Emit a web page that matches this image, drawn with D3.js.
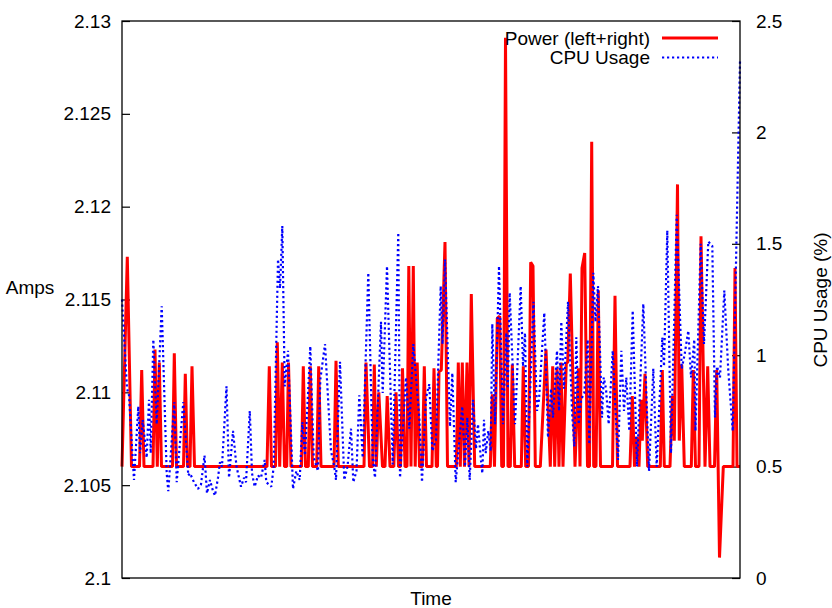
<!DOCTYPE html>
<meta charset="utf-8">

<head>
  <title>Power and CPU usage</title>
</head>

<style>
  body { margin: 0; background: #fff; }
  text { font-family: "Liberation Sans", Arial, sans-serif; font-size: 19px; fill: #000; }
</style>

<body>
  <svg width="832" height="608"></svg>

  <script src="https://cdn.jsdelivr.net/npm/d3@7/dist/d3.min.js"></script>
  <script>
    // sample time (arbitrary units, axis has no labels)
    var powerTime = [0, 5.3, 9.5, 17.5, 19.7, 22, 31, 33, 35.3, 37.3, 39.5, 50.5, 52.3, 54.5, 61.5, 63.3, 65.5, 68, 70, 72.5,
      145, 147.3, 149.5, 153.5, 155.3, 157.7, 160.3, 162.5, 164.7, 166.5, 169, 179.5, 181.3, 183.5, 186.3, 188.3, 190.5,
      194.7, 196.7, 199, 212, 214, 216.3, 242, 244, 247.5, 250.5, 252.3, 254.3, 256.8, 260.5, 263, 265.2, 268, 271.8, 274,
      276.5, 278.5, 280.5, 283, 285, 286.8, 289, 291.3, 293.2, 295.2, 297.5, 300.3, 302.3, 304.5, 310, 312, 314.3, 315.5,
      317, 319.3, 323, 325.5, 334.3, 336.3, 338.3, 340.3, 342.5, 345, 347, 349.3, 352.7, 368.3, 370.3, 372.5, 375.3, 377.7,
      379.7, 381.5, 383.5, 386, 388.3, 390.3, 392.7, 399.3, 401.3, 403.7, 406.5, 408.7, 411, 413.3, 418.3, 424, 428.3,
      430.7, 432.7, 435, 437, 439, 441, 444.3, 445.7, 448.3, 453, 456.5, 458, 460, 462.7, 465.5, 467.5, 469.7, 471.7, 474,
      476.3, 478.5, 490.5, 493, 495.5, 508, 510.3, 512.5, 514.7, 517, 519, 520.3, 523, 525.7, 538.3, 540.3, 542.3, 548,
      550.3, 552.3, 555.5, 557.3, 559.7, 562.3, 569.3, 571.3, 573.5, 577, 579, 583, 585.7, 588, 592.5, 594.7, 597.5, 601.3,
      611, 613, 615, 618];
    var powerAmps = [2.106, 2.1173, 2.106, 2.106, 2.1112, 2.106, 2.106, 2.1123, 2.106, 2.1116, 2.106, 2.106, 2.1121, 2.106, 2.106, 2.111, 2.106, 2.106, 2.1114, 2.106,
      2.106, 2.1114, 2.106, 2.106, 2.1127, 2.106, 2.1116, 2.106, 2.106, 2.1116, 2.106, 2.106, 2.1114, 2.106, 2.106, 2.1114, 2.106,
      2.106, 2.1114, 2.106, 2.106, 2.1117, 2.106, 2.106, 2.1116, 2.106, 2.106, 2.1115, 2.106, 2.11, 2.106, 2.106, 2.1098, 2.106, 2.106, 2.11,
      2.106, 2.106, 2.1113, 2.106, 2.106, 2.1168, 2.106, 2.1168, 2.106, 2.1116, 2.106, 2.106, 2.1114, 2.106, 2.106, 2.1113, 2.106, 2.106,
      2.1111, 2.1112, 2.1181, 2.106, 2.106, 2.1116, 2.106, 2.1116, 2.106, 2.1116, 2.106, 2.1153, 2.106, 2.106, 2.1099, 2.106, 2.114, 2.1141,
      2.106, 2.106, 2.1291, 2.106, 2.106, 2.1115, 2.106, 2.106, 2.1114, 2.106, 2.106, 2.117, 2.1168, 2.106, 2.106, 2.1123, 2.106,
      2.1114, 2.106, 2.1113, 2.106, 2.1116, 2.106, 2.1116, 2.1116, 2.1164, 2.106, 2.1113, 2.106, 2.1167, 2.1175, 2.106, 2.106, 2.1235, 2.106, 2.106,
      2.1155, 2.106, 2.106, 2.1152, 2.106, 2.106, 2.1098, 2.106, 2.1076, 2.106, 2.1096, 2.1074, 2.111, 2.106, 2.106, 2.1112, 2.106, 2.106,
      2.1098, 2.1074, 2.1212, 2.1074, 2.1115, 2.106, 2.106, 2.1112, 2.106, 2.106, 2.1184, 2.106, 2.1114, 2.106, 2.106, 2.1112, 2.1011, 2.106,
      2.106, 2.1167, 2.106, 2.106];

    var cpuTime = [0, 5, 7, 12, 16.3, 18, 20.7, 24.7, 27, 28.7, 31.3, 34.7, 39.7, 44.7, 46.3, 52.3, 54.7, 61.3, 66.3, 68, 72, 76, 79,
      82.5, 85, 88, 91, 93, 96, 98, 100, 104.5, 107, 111, 114.5, 119, 122, 124, 127.8, 130, 132.7, 136, 139, 142.7, 144.3, 149.3,
      151.7, 156, 158, 160.3, 162.7, 166, 171, 174.3, 177.7, 180.3, 183, 188.3, 191.7, 196, 198.3, 203, 209, 212.3, 214, 218, 222.3,
      225.5, 229, 231.3, 234.5, 237.3, 240.7, 246.3, 250.7, 253, 259, 260.7, 265, 270.7, 276.3, 278, 284, 287.3, 291.3, 297.3, 300,
      304, 307.3, 310.3, 314, 318.7, 320.5, 323, 328, 330.3, 333.7, 340.3, 343, 345.3, 347.7, 351, 354, 356, 358.7, 360.3, 362,
      363.7, 366.3, 368.7, 370.3, 373, 377, 381, 384.3, 385.8, 387.7, 393, 395, 398.7, 401, 403, 405.3, 411.5, 415, 417, 422.3,
      426, 429, 431, 435, 437, 439.3, 442, 446, 450, 452.3, 454.3, 456.7, 459, 462.3, 465.7, 467.3, 471.3, 473.5, 476, 480, 481.7,
      484, 486.7, 490.7, 493, 496, 499.3, 502, 504.3, 507.3, 510.7, 515, 521.3, 527, 531.3, 534.7, 540.3, 542, 545.3, 549, 554.7,
      559.7, 562.5, 566.3, 569, 572.3, 573.5, 578.7, 582, 586.3, 590.3, 593, 595, 598, 602.3, 606.3, 610.7, 618];
    var cpuUsage = [1.25, 0.85, 0.82, 0.44, 0.77, 0.56, 0.71, 0.54, 0.8, 0.56, 1.07, 0.69, 1.22, 0.47, 0.39, 0.79, 0.43, 0.79, 0.46, 0.47, 0.43, 0.4, 0.42,
      0.55, 0.38, 0.44, 0.39, 0.37, 0.45, 0.52, 0.5, 0.86, 0.45, 0.66, 0.5, 0.41, 0.45, 0.43, 0.75, 0.47, 0.41, 0.46, 0.45, 0.53, 0.43, 0.41,
      0.5, 1.43, 1.3, 1.58, 0.86, 1.02, 0.4, 0.48, 0.44, 0.7, 0.55, 1.04, 0.54, 0.48, 0.89, 1.05, 0.57, 0.5, 0.44, 0.97, 0.44,
      0.5, 0.67, 0.43, 0.48, 0.82, 0.54, 1.37, 0.54, 0.45, 1.15, 0.83, 1.4, 0.51, 1.55, 0.45, 0.9, 0.67, 1.05, 0.72, 0.43,
      0.81, 0.87, 0.57, 0.62, 1.31, 1.05, 1.43, 0.68, 0.92, 0.43, 0.77, 0.5, 0.72, 0.44, 0.8, 0.58, 0.69, 0.54, 0.47, 0.71,
      0.56, 0.66, 0.57, 1.14, 0.69, 1.4, 0.69, 1.1, 0.85, 1.28, 0.69, 0.9, 1.31, 0.95, 1.1, 0.5, 1.24, 0.75, 0.8, 1.19,
      0.63, 0.85, 0.72, 1.02, 0.75, 1.15, 0.85, 1.24, 0.75, 0.59, 1.08, 0.69, 0.8, 0.83, 1.07, 0.6, 1.37, 1.15, 1.31, 0.72, 0.9,
      0.85, 0.69, 1.02, 0.8, 0.53, 1.02, 0.75, 0.9, 0.66, 1.2, 0.5, 1.23, 0.48, 0.94, 0.5, 1.08, 0.95, 1.56, 0.56, 1.63,
      0.94, 1.0, 1.11, 0.9, 1.07, 0.66, 1.5, 1.05, 1.51, 1.49, 0.72, 0.95, 0.9, 1.29, 0.93, 0.66, 2.32];

    var ampsTicks = [2.1, 2.105, 2.11, 2.115, 2.12, 2.125, 2.13];
    var ampsTickLabels = ['2.1', '2.105', '2.11', '2.115', '2.12', '2.125', '2.13'];
    var cpuTicks = [0, 0.5, 1, 1.5, 2, 2.5];
    var cpuTickLabels = ['0', '0.5', '1', '1.5', '2', '2.5'];
    var seriesNames = ['Power (left+right)', 'CPU Usage'];
    var seriesColors = ['#ff0000', '#0000ff'];

    var plotLeft = 122, plotRight = 740, plotTop = 21, plotBottom = 578;

    var x = d3.scaleLinear().domain([0, 618]).range([plotLeft, plotRight]);
    var yAmps = d3.scaleLinear().domain([2.1, 2.13]).range([plotBottom, plotTop]);
    var yCpu = d3.scaleLinear().domain([0, 2.5]).range([plotBottom, plotTop]);

    var svg = d3.select('svg');

    svg.append('g')
      .attr('transform', 'translate(' + plotLeft + ',0)')
      .call(d3.axisLeft(yAmps).tickValues(ampsTicks).tickSize(-8).tickPadding(11)
        .tickFormat(function (d, i) { return ampsTickLabels[i]; }));
    svg.append('g')
      .attr('transform', 'translate(' + plotRight + ',0)')
      .call(d3.axisRight(yCpu).tickValues(cpuTicks).tickSize(-8).tickPadding(16)
        .tickFormat(function (d, i) { return cpuTickLabels[i]; }));
    svg.selectAll('.domain').remove();
    svg.selectAll('.tick line').attr('stroke', '#000').attr('stroke-width', 1.2);
    svg.selectAll('.tick text').attr('font-size', 18).attr('font-family', '"Liberation Sans", Arial, sans-serif');

    var powerLine = d3.line()
      .x(function (d, i) { return x(powerTime[i]); })
      .y(function (d) { return yAmps(d); });
    var cpuLine = d3.line()
      .x(function (d, i) { return x(cpuTime[i]); })
      .y(function (d) { return yCpu(d); });

    svg.append('path')
      .attr('d', powerLine(powerAmps))
      .attr('fill', 'none')
      .attr('stroke', seriesColors[0])
      .attr('stroke-width', 3)
      .attr('stroke-linejoin', 'bevel');

    svg.append('path')
      .attr('d', cpuLine(cpuUsage))
      .attr('fill', 'none')
      .attr('stroke', seriesColors[1])
      .attr('stroke-width', 2.2)
      .attr('stroke-dasharray', '2.2,2.8')
      .attr('stroke-linejoin', 'bevel');

    // border
    svg.append('rect')
      .attr('x', plotLeft).attr('y', plotTop)
      .attr('width', plotRight - plotLeft).attr('height', plotBottom - plotTop)
      .attr('fill', 'none').attr('stroke', '#000').attr('stroke-width', 1.3);

    // legend
    var legend = svg.append('g')
      .selectAll('g')
      .data(seriesNames)
      .enter()
      .append('g')
      .attr('transform', function (d, i) { return 'translate(0,' + (38 + i * 19.5) + ')'; });
    legend.append('text')
      .attr('x', 650)
      .attr('dy', '0.35em')
      .attr('text-anchor', 'end')
      .text(function (d) { return d; });
    legend.append('line')
      .attr('x1', 662).attr('x2', 718)
      .attr('stroke', function (d, i) { return seriesColors[i]; })
      .attr('stroke-width', function (d, i) { return i == 0 ? 2.8 : 2.2; })
      .attr('stroke-dasharray', function (d, i) { return i == 0 ? null : '2.2,2.8'; });

    svg.append('text')
      .attr('x', 30).attr('y', 287).attr('dy', '0.35em')
      .attr('text-anchor', 'middle')
      .attr('font-size', 18)
      .text('Amps');
    svg.append('text')
      .attr('x', 431).attr('y', 598).attr('dy', '0.35em')
      .attr('text-anchor', 'middle')
      .text('Time');
    svg.append('text')
      .attr('transform', 'translate(820,300) rotate(-90)')
      .attr('dy', '0.35em')
      .attr('text-anchor', 'middle')
      .text('CPU Usage (%)');
  </script>
</body>

</html>
